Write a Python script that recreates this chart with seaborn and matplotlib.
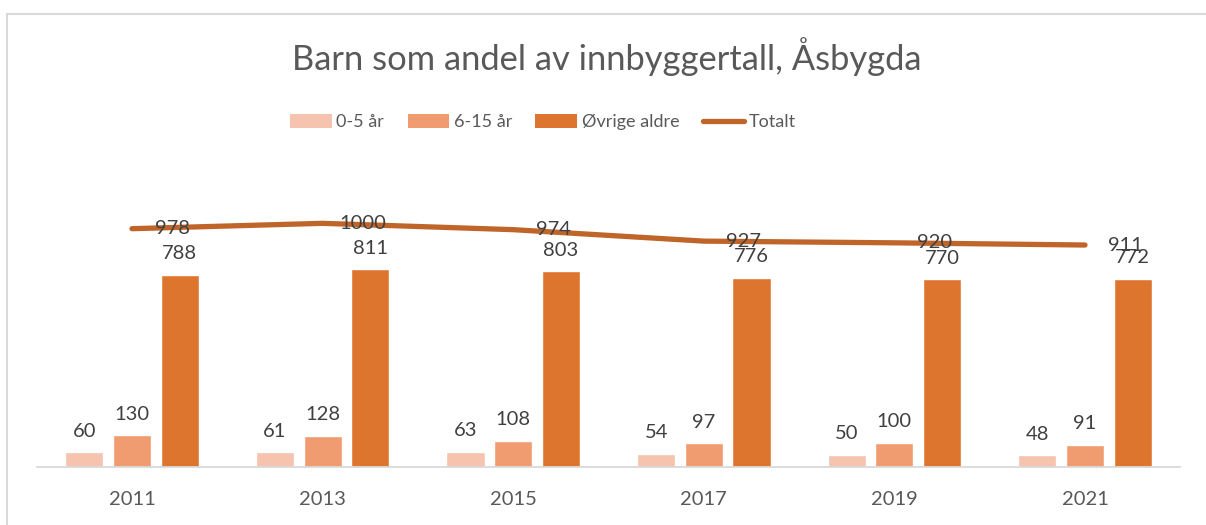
import numpy as np
import pandas as pd
import matplotlib
matplotlib.use("Agg")
import matplotlib.pyplot as plt
from matplotlib.patches import Patch, Rectangle
from matplotlib.lines import Line2D
import seaborn as sns

years = ["2011", "2013", "2015", "2017", "2019", "2021"]
age_0_5 = [60, 61, 63, 54, 50, 48]
age_6_15 = [130, 128, 108, 97, 100, 91]
other_ages = [788, 811, 803, 776, 770, 772]
total = [978, 1000, 974, 927, 920, 911]
groups = ["0-5 år", "6-15 år", "Øvrige aldre"]

colors = ["#F5C3AE", "#F19B70", "#DE752E"]
line_color = "#C0652A"
text_color = "#404040"
soft_text = "#595959"

df = pd.DataFrame({
    "year": years * 3,
    "value": age_0_5 + age_6_15 + other_ages,
    "group": [g for g in groups for _ in years],
})

sns.set_style("white")
plt.rcParams["font.family"] = ["Lato", "DejaVu Sans"]

fig = plt.figure(figsize=(12.06, 5.25), dpi=100)
ax = fig.add_axes([36.7 / 1206, 58 / 525, 1143.6 / 1206, 292.4 / 525])

sns.barplot(data=df, x="year", y="value", hue="group", palette=colors,
            width=0.75, gap=0.2, ax=ax, legend=False, errorbar=None,
            saturation=1)

for cont in ax.containers:
    ax.bar_label(cont, padding=9, fontsize=14.5, color=text_color)

xs = np.arange(len(years))
sns.lineplot(x=xs, y=total, color=line_color, linewidth=3.8, ax=ax,
             solid_capstyle="round")
for x, v in zip(xs, total):
    ax.text(x + 0.21, v, str(v), ha="center", va="center",
            fontsize=14.5, color=text_color)

ax.set_xlim(-0.5, len(years) - 0.5)
ax.set_ylim(0, 1200)
ax.set_xlabel("")
ax.set_ylabel("")
ax.set_yticks([])
for s in ["top", "left", "right"]:
    ax.spines[s].set_visible(False)
ax.spines["bottom"].set_color("#D9D9D9")
ax.spines["bottom"].set_linewidth(1.3)
ax.tick_params(axis="x", length=0, pad=17, labelsize=14.5, labelcolor=soft_text)

fig.text(0.503, 1 - 57 / 525, "Barn som andel av innbyggertall, Åsbygda",
         ha="center", va="center", fontsize=24.8, color=soft_text)

handles = [Patch(facecolor=c, edgecolor="none") for c in colors]
handles.append(Line2D([0], [0], color=line_color, linewidth=3.8,
                      solid_capstyle="round"))
fig.legend(handles, groups + ["Totalt"], loc="center",
           bbox_to_anchor=(543 / 1206, 1 - 122 / 525), ncol=4, frameon=False,
           fontsize=13, handlelength=2.3, handleheight=0.8, handletextpad=0.25,
           columnspacing=1.3, labelcolor=soft_text)

fig.patches.append(Rectangle((7 / 1206, -0.1), 1.2, 1 - 14 / 525 + 0.1,
                             transform=fig.transFigure, fill=False,
                             edgecolor="#D9D9D9", linewidth=1.5))

fig.savefig("out.png", dpi=100)
